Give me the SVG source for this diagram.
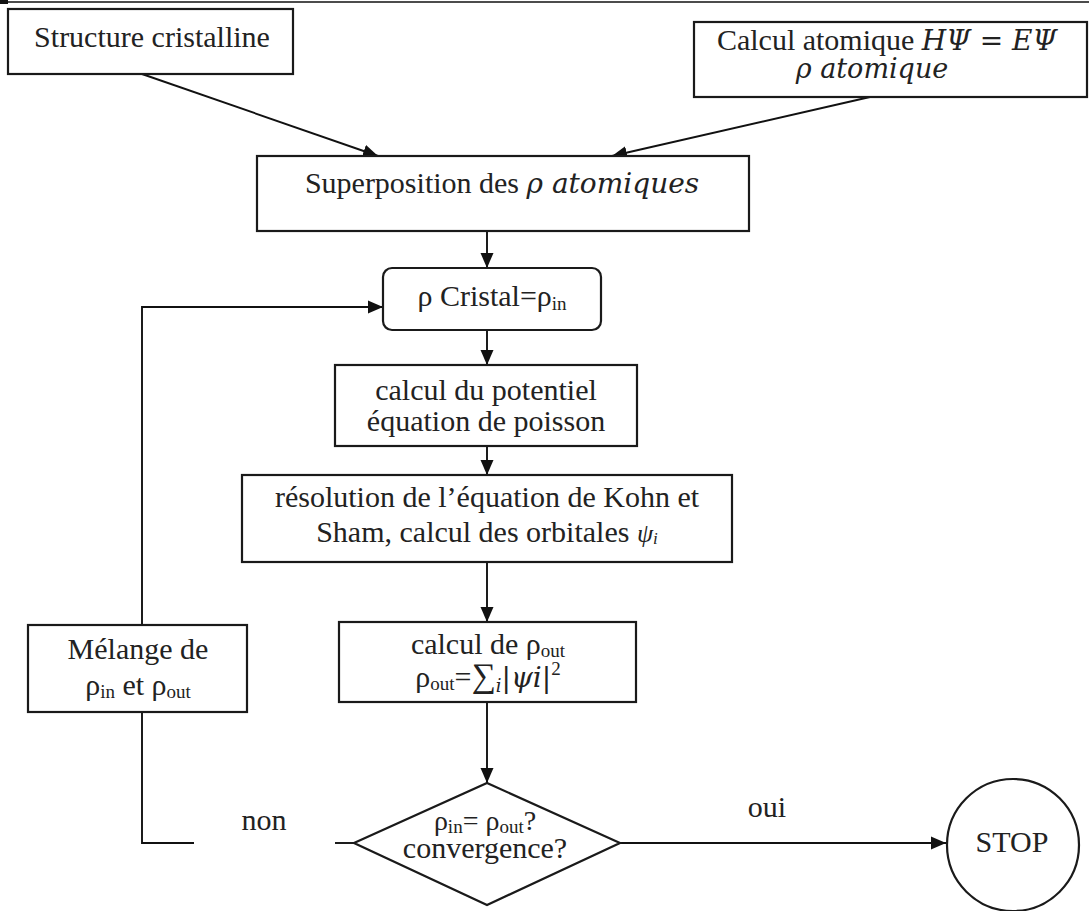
<svg xmlns="http://www.w3.org/2000/svg" width="1089" height="911" viewBox="0 0 1089 911">
<style>
  .box{fill:#fff;stroke:#1a1a1a;stroke-width:2.2}
  .ln{fill:none;stroke:#111;stroke-width:1.9}
  .t{font-family:"Liberation Serif","Times New Roman",serif;font-size:30px;fill:#222}
  .m{font-family:"DejaVu Serif",serif;font-style:italic;font-size:27px}
  .sub{font-size:19px}
  .it{font-family:"Liberation Serif",serif;font-style:italic}
</style>
<defs>
  <marker id="ah" markerUnits="userSpaceOnUse" markerWidth="16" markerHeight="14" refX="15" refY="7" orient="auto">
    <path d="M0,0.5 L15,7 L0,13.5 Z" fill="#111"/>
  </marker>
</defs>
<rect width="1089" height="911" fill="#fff"/>
<g id="rule">
  <line x1="0" y1="2" x2="1089" y2="2" stroke="#111" stroke-width="1.5"/>
  <rect x="0" y="0" width="8" height="4" fill="#111"/>
</g>
<g id="connectors">
  <line class="ln" x1="142" y1="74" x2="378" y2="156" marker-end="url(#ah)"/>
  <line class="ln" x1="870" y1="97" x2="612" y2="156" marker-end="url(#ah)"/>
  <line class="ln" x1="487" y1="231" x2="487" y2="268" marker-end="url(#ah)"/>
  <line class="ln" x1="487" y1="330" x2="487" y2="365" marker-end="url(#ah)"/>
  <line class="ln" x1="487" y1="446" x2="487" y2="475" marker-end="url(#ah)"/>
  <line class="ln" x1="487" y1="562" x2="487" y2="622" marker-end="url(#ah)"/>
  <line class="ln" x1="487" y1="702" x2="487" y2="783" marker-end="url(#ah)"/>
  <line class="ln" x1="620" y1="843" x2="946" y2="843" marker-end="url(#ah)"/>
  <line class="ln" x1="354" y1="843" x2="335" y2="843"/>
  <polyline class="ln" points="194,843 142,843 142,712"/>
  <polyline class="ln" points="142,625 142,307 383,307" marker-end="url(#ah)"/>
</g>
<g id="structure">
  <rect class="box" x="8" y="9" width="285" height="65"/>
  <text class="t" x="152" y="47" text-anchor="middle">Structure cristalline</text>
</g>
<g id="calcul-atomique">
  <rect class="box" x="694" y="22" width="393" height="75"/>
  <text class="t" x="887" y="50" text-anchor="middle">Calcul atomique <tspan class="m" style="font-size:28px">HΨ = EΨ</tspan></text>
  <text class="t m" x="872" y="78" text-anchor="middle">ρ atomique</text>
</g>
<g id="superposition">
  <rect class="box" x="257" y="156" width="492" height="75"/>
  <text class="t" x="502" y="193" text-anchor="middle">Superposition des <tspan class="m" style="font-size:28px">ρ  atomiques</tspan></text>
</g>
<g id="rho-cristal">
  <rect class="box" x="383" y="268" width="218" height="62" rx="9" ry="9"/>
  <text class="t" x="492" y="306" text-anchor="middle">ρ Cristal=ρ<tspan class="sub" dy="4">in</tspan></text>
</g>
<g id="potentiel">
  <rect class="box" x="335" y="365" width="302" height="81"/>
  <text class="t" x="486" y="400" text-anchor="middle">calcul du potentiel</text>
  <text class="t" x="486" y="431" text-anchor="middle">équation de poisson</text>
</g>
<g id="resolution">
  <rect class="box" x="242" y="475" width="490" height="87"/>
  <text class="t" x="487" y="507" text-anchor="middle">résolution de l’équation de Kohn et</text>
  <text class="t" x="487" y="542" text-anchor="middle">Sham, calcul des orbitales <tspan class="it" style="font-size:26px">ψ</tspan><tspan class="it" style="font-size:17px" dy="2">i</tspan></text>
</g>
<g id="calcul-rho-out">
  <rect class="box" x="339" y="622" width="297" height="80"/>
  <text class="t" x="488" y="654" text-anchor="middle">calcul de ρ<tspan class="sub" dy="3">out</tspan></text>
  <text class="t" x="488" y="687" text-anchor="middle">ρ<tspan class="sub" dy="3">out</tspan><tspan dy="-3">=</tspan><tspan style="font-size:34px">∑</tspan><tspan class="m" style="font-size:18px" dy="5">i</tspan><tspan class="m" style="font-size:28px" dy="-5">|ψi|</tspan><tspan style="font-size:19px" dy="-12">2</tspan></text>
</g>
<g id="melange">
  <rect class="box" x="28" y="625" width="219" height="87"/>
  <text class="t" x="138" y="659" text-anchor="middle">Mélange de</text>
  <text class="t" x="138" y="695" text-anchor="middle">ρ<tspan class="sub" dy="3">in</tspan><tspan dy="-3"> et ρ</tspan><tspan class="sub" dy="3">out</tspan></text>
</g>
<g id="convergence">
  <polygon class="box" points="354,843 487,783 620,843 487,905"/>
  <text class="t" x="485" y="830" text-anchor="middle" style="font-size:28px">ρ<tspan class="sub" dy="3">in</tspan><tspan dy="-3">= ρ</tspan><tspan class="sub" dy="3">out</tspan><tspan dy="-3">?</tspan></text>
  <text class="t" x="485" y="858" text-anchor="middle">convergence?</text>
</g>
<g id="stop">
  <circle class="box" cx="1013" cy="845" r="66"/>
  <text class="t" x="1012" y="852" text-anchor="middle">STOP</text>
</g>
<g id="labels">
  <text class="t" x="264" y="830" text-anchor="middle">non</text>
  <text class="t" x="767" y="817" text-anchor="middle">oui</text>
</g>
</svg>
